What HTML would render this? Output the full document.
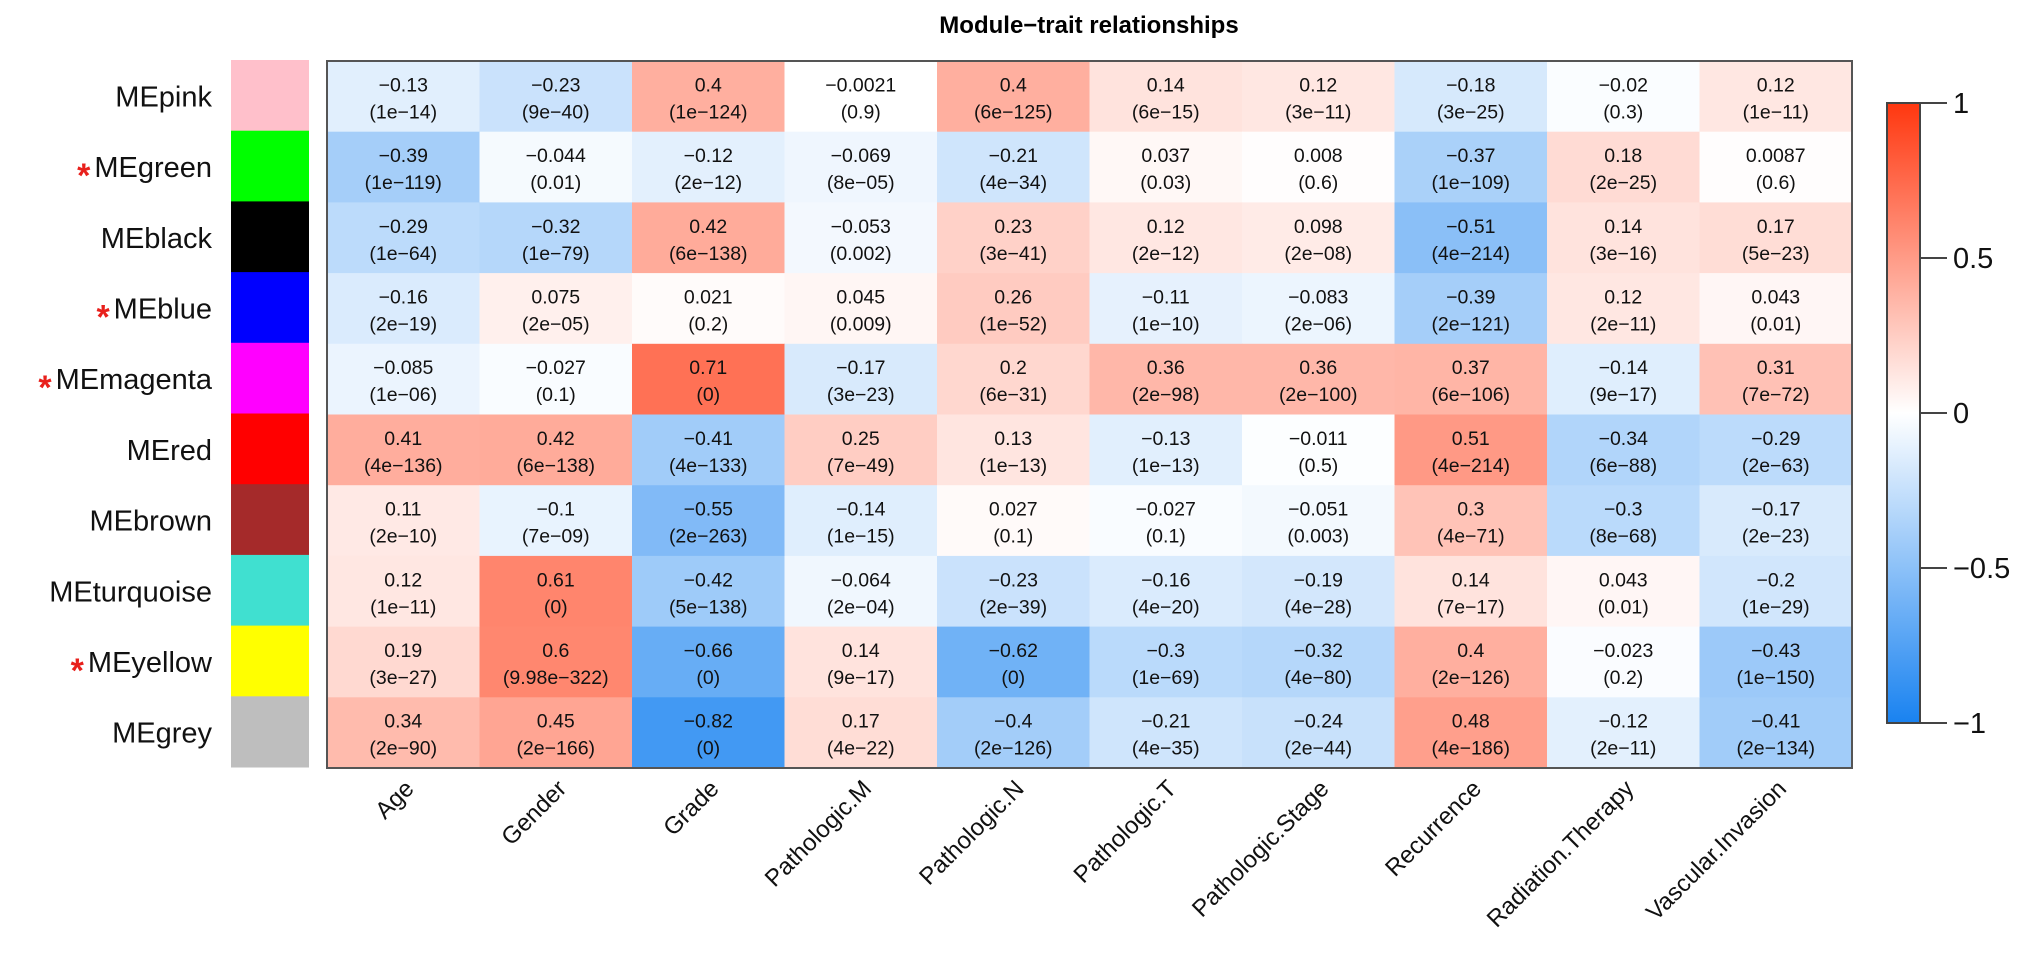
<!DOCTYPE html>
<html><head><meta charset="utf-8"><style>
body{margin:0;background:#fff;}
svg{display:block;font-family:"Liberation Sans",Arial,sans-serif;}
</style></head><body>
<svg id="chart" width="2031" height="953" viewBox="0 0 2031 953">
<text x="1089" y="33" text-anchor="middle" font-weight="bold" font-size="24">Module−trait relationships</text>
<g id="cells"></g><g id="rows"></g><g id="cols"></g><g id="legend"></g>
</svg>
<script>
const modules=["MEpink","MEgreen","MEblack","MEblue","MEmagenta","MEred","MEbrown","MEturquoise","MEyellow","MEgrey"];
const moduleColors=["#ffc0cb","#00ff00","#000000","#0000ff","#ff00ff","#ff0000","#a52a2a","#40e0d0","#ffff00","#bebebe"];
const starred=[false,true,false,true,true,false,false,false,true,false];
const traits=["Age","Gender","Grade","Pathologic.M","Pathologic.N","Pathologic.T","Pathologic.Stage","Recurrence","Radiation.Therapy","Vascular.Invasion"];
const corr=[
["-0.13","-0.23","0.4","-0.0021","0.4","0.14","0.12","-0.18","-0.02","0.12"],
["-0.39","-0.044","-0.12","-0.069","-0.21","0.037","0.008","-0.37","0.18","0.0087"],
["-0.29","-0.32","0.42","-0.053","0.23","0.12","0.098","-0.51","0.14","0.17"],
["-0.16","0.075","0.021","0.045","0.26","-0.11","-0.083","-0.39","0.12","0.043"],
["-0.085","-0.027","0.71","-0.17","0.2","0.36","0.36","0.37","-0.14","0.31"],
["0.41","0.42","-0.41","0.25","0.13","-0.13","-0.011","0.51","-0.34","-0.29"],
["0.11","-0.1","-0.55","-0.14","0.027","-0.027","-0.051","0.3","-0.3","-0.17"],
["0.12","0.61","-0.42","-0.064","-0.23","-0.16","-0.19","0.14","0.043","-0.2"],
["0.19","0.6","-0.66","0.14","-0.62","-0.3","-0.32","0.4","-0.023","-0.43"],
["0.34","0.45","-0.82","0.17","-0.4","-0.21","-0.24","0.48","-0.12","-0.41"]];
const pvals=[
["1e-14","9e-40","1e-124","0.9","6e-125","6e-15","3e-11","3e-25","0.3","1e-11"],
["1e-119","0.01","2e-12","8e-05","4e-34","0.03","0.6","1e-109","2e-25","0.6"],
["1e-64","1e-79","6e-138","0.002","3e-41","2e-12","2e-08","4e-214","3e-16","5e-23"],
["2e-19","2e-05","0.2","0.009","1e-52","1e-10","2e-06","2e-121","2e-11","0.01"],
["1e-06","0.1","0","3e-23","6e-31","2e-98","2e-100","6e-106","9e-17","7e-72"],
["4e-136","6e-138","4e-133","7e-49","1e-13","1e-13","0.5","4e-214","6e-88","2e-63"],
["2e-10","7e-09","2e-263","1e-15","0.1","0.1","0.003","4e-71","8e-68","2e-23"],
["1e-11","0","5e-138","2e-04","2e-39","4e-20","4e-28","7e-17","0.01","1e-29"],
["3e-27","9.98e-322","0","9e-17","0","1e-69","4e-80","2e-126","0.2","1e-150"],
["2e-90","2e-166","0","4e-22","2e-126","4e-35","2e-44","4e-186","2e-11","2e-134"]];
const legendTicks=[1,0.5,0,-0.5,-1];

const NS="http://www.w3.org/2000/svg";
const X0=327,Y0=61,X1=1852,Y1=768;
const cw=(X1-X0)/traits.length, rh=(Y1-Y0)/modules.length;
const xAt=i=>X0+i*cw, yAt=j=>Y0+j*rh;
const LT=103,LB=723;
const lScale=v=>LT+(1-v)/2*(LB-LT);
function color(v){
  v=Math.max(-1,Math.min(1,v));
  let c=v>=0?[255,55,15]:[25,130,240];
  let t=Math.abs(v);
  return `rgb(${Math.round(255+(c[0]-255)*t)},${Math.round(255+(c[1]-255)*t)},${Math.round(255+(c[2]-255)*t)})`;
}
const mk=(tag,attrs,parent,txt)=>{const e=document.createElementNS(NS,tag);for(const k in attrs)e.setAttribute(k,attrs[k]);if(txt!==undefined)e.textContent=txt;parent.appendChild(e);return e;};
const cells=document.getElementById('cells');
corr.forEach((row,j)=>row.forEach((v,i)=>{
  const r=mk('rect',{x:xAt(i),y:yAt(j),width:cw+0.5,height:rh+0.5,fill:color(parseFloat(v))},cells);
  
  
  const t1=mk('text',{x:xAt(i)+cw/2,y:yAt(j)+rh/2-5,'text-anchor':'middle','font-size':19.5,fill:'#111'},cells,v.replace('-','−'));
  
  
  const t2=mk('text',{x:xAt(i)+cw/2,y:yAt(j)+rh/2+22,'text-anchor':'middle','font-size':19.5,fill:'#111'},cells,'('+pvals[j][i].replace('-','−')+')');
  
  
}));
const fr=mk('rect',{x:X0,y:Y0,width:X1-X0,height:Y1-Y0,fill:'none',stroke:'#555','stroke-width':2},cells);


const rows=document.getElementById('rows');
modules.forEach((m,j)=>{
  const s=mk('rect',{x:231,y:yAt(j)-1,width:78,height:rh+0.5,fill:moduleColors[j]},rows);
  
  
  const t=mk('text',{x:212,y:yAt(j)+rh/2+10,'text-anchor':'end','font-size':29,fill:'#111'},rows,m);
  
  
  if(starred[j]){
    const w=t.getComputedTextLength();
    const st=mk('text',{x:212-w-4,y:yAt(j)+rh/2+20,'text-anchor':'end','font-size':34,fill:'#e8201c','font-weight':'bold'},rows,'*');
    
    
  }
});
const cols=document.getElementById('cols');
traits.forEach((tr,i)=>{
  const cx=xAt(i)+cw/2+12, cy=Y1+22;
  const t=mk('text',{x:cx,y:cy,'text-anchor':'end','font-size':24,fill:'#111',transform:`rotate(-45 ${cx} ${cy})`},cols,tr);
  
  
});
const lg=document.getElementById('legend');
const defs=mk('defs',{},lg);
const gr=mk('linearGradient',{id:'lgrad',x1:0,y1:0,x2:0,y2:1},defs);
for(let k=0;k<=20;k++){const v=1-k/10;mk('stop',{offset:(k/20*100)+'%','stop-color':color(v)},gr);}
const lb=mk('rect',{x:1887,y:LT,width:33,height:LB-LT,fill:'url(#lgrad)',stroke:'#444','stroke-width':2},lg);


legendTicks.forEach(v=>{
  const y=lScale(v);
  const l=mk('line',{x1:1920,x2:1947,y1:y,y2:y,stroke:'#444','stroke-width':2},lg);
  
  
  const t=mk('text',{x:1953,y:y+10,'font-size':29,fill:'#111'},lg,String(v).replace('-','−'));
  
  
});
</script>
</body></html>
